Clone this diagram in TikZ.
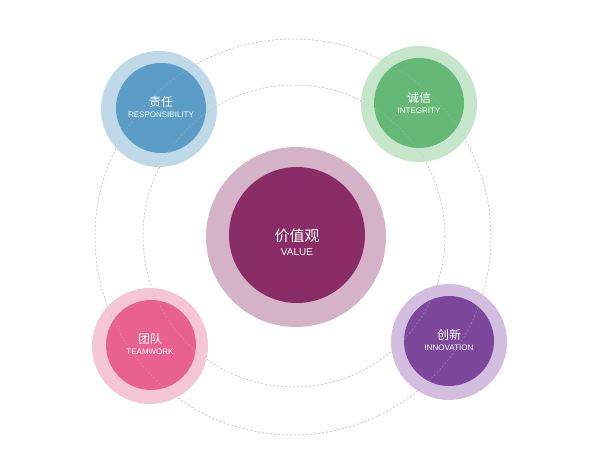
\documentclass[tikz,border=0pt]{standalone}
\usepackage{fontspec}
\setmainfont{Liberation Sans}
\newfontfamily\cjk{Noto Sans CJK SC}
\begin{document}
\begin{tikzpicture}[x=1pt,y=-1pt,
  ring/.style={dash pattern=on 2pt off 2pt, draw=black!25, line width=0.5pt},
  lbl/.style={text=white, align=center, font=\fontsize{8}{10}\selectfont}]
\useasboundingbox (0,0) rectangle (600,462);
\fill[white] (0,0) rectangle (600,462);
\draw[ring] (293,237) circle (198);
\draw[ring] (294,236) circle (151);
\definecolor{bO}{HTML}{BFD9E8}\definecolor{bI}{HTML}{5B9DC6}
\definecolor{gO}{HTML}{C6E6CC}\definecolor{gI}{HTML}{66B877}
\definecolor{pO}{HTML}{F5C6D6}\definecolor{pI}{HTML}{E9628F}
\definecolor{vO}{HTML}{D3BEDF}\definecolor{vI}{HTML}{7D489C}
\definecolor{cO}{HTML}{D4B2C7}\definecolor{cI}{HTML}{8A2C65}
\fill[cO] (296,237) circle (90); \fill[cI] (297,235) circle (68);
\fill[bO] (159,109) circle (58); \fill[bI] (161,108) circle (45);
\fill[gO] (419,104) circle (58); \fill[gI] (419,103) circle (45);
\fill[pO] (150,346) circle (58); \fill[pI] (151,345) circle (45);
\fill[vO] (449,342) circle (58); \fill[vI] (449,341) circle (45);
\draw[ring,opacity=0.5] (293,237) circle (198);
\draw[ring,opacity=0.5] (294,236) circle (151);
\node[lbl] (c) at (297,242) {{\cjk\fontsize{15}{18}\selectfont 价值观}\\[4pt]{\fontsize{10}{12}\selectfont VALUE}};
\node[lbl] (r) at (161,107) {{\cjk\fontsize{12}{14}\selectfont 责任}\\[1pt]RESPONSIBILITY};
\node[lbl] (i) at (419,103) {{\cjk\fontsize{12}{14}\selectfont 诚信}\\[1pt]INTEGRITY};
\node[lbl] (t) at (150,344) {{\cjk\fontsize{12}{14}\selectfont 团队}\\[1pt]TEAMWORK};
\node[lbl] (n) at (449,340) {{\cjk\fontsize{12}{14}\selectfont 创新}\\[1pt]INNOVATION};
\end{tikzpicture}
\end{document}
